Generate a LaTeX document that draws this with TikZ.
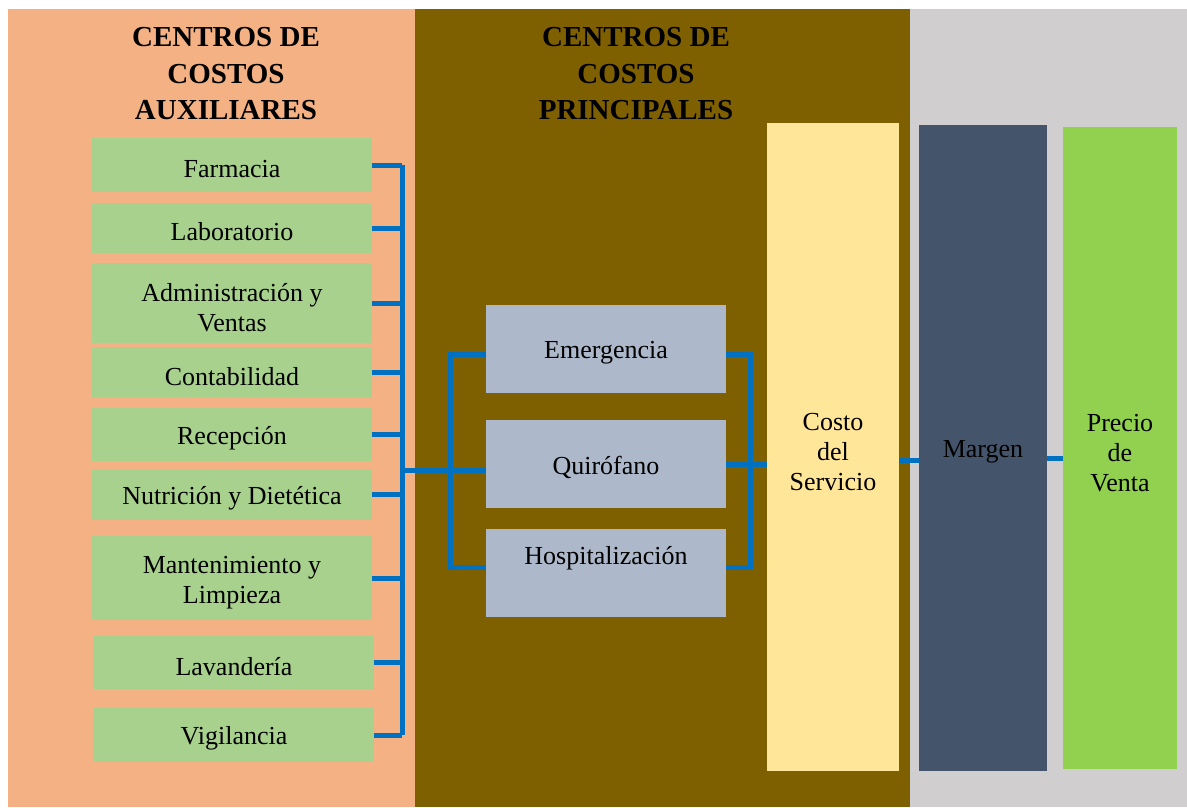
\documentclass[tikz,border=0pt]{standalone}
\usepackage{fontspec}
\setmainfont{Liberation Serif}
\usetikzlibrary{positioning}
\definecolor{peach}{HTML}{F4B183}
\definecolor{olive}{HTML}{7F6000}
\definecolor{greybg}{HTML}{D0CECE}
\definecolor{leaf}{HTML}{A9D18E}
\definecolor{steel}{HTML}{ADB9CA}
\definecolor{cream}{HTML}{FFE699}
\definecolor{slate}{HTML}{44546A}
\definecolor{lime}{HTML}{92D050}
\definecolor{link}{HTML}{0070C0}
\newcommand\topgap{\rule{0pt}{20pt}}

\begin{document}
\begin{tikzpicture}[
                x=0.75pt,y=-0.75pt,
                every node/.append style={inner sep=2pt,align=center,
                    font=\fontsize{19.5}{22.5}\selectfont},
                title/.style={font=\fontsize{21.75}{27.4}\selectfont\bfseries},
                box/.style={execute at begin node=\rule{0pt}{19pt}},
                aux/.style={box,fill=leaf,minimum width=210pt},
                main/.style={box,fill=steel,minimum width=180pt,minimum height=66pt},
                wire/.style={draw=link,line width=3.75pt}
            ]
                \useasboundingbox (0,0) rectangle (1187,807);
                \fill[white] (0,0) rectangle (1187,807);
                \fill[peach]  (8,9)   rectangle (415,807);
                \fill[olive]  (415,9) rectangle (910,807);
                \fill[greybg] (910,9) rectangle (1187,807);

                \node (tA) [title] at (226,74) {CENTROS DE\\COSTOS\\AUXILIARES};
                \node (tP) [title] at (636,74) {CENTROS DE\\COSTOS\\PRINCIPALES};

                \node (farm) [aux,minimum height=40.5pt]  at (232,165)   {Farmacia};
                \node (lab)  [aux,minimum height=37.5pt]  at (232,228)   {Laboratorio};
                \node (adm)  [aux,minimum height=60pt]    at (232,303)   {\topgap Administración y\\Ventas};
                \node (cont) [aux,minimum height=38.25pt] at (232,372.5) {Contabilidad};
                \node (rec)  [aux,minimum height=39.75pt] at (232,434.5) {Recepción};
                \node (nut)  [aux,minimum height=38.25pt] at (232,494.5) {Nutrición y Dietética};
                \node (mant) [aux,minimum height=63pt]    at (232,578)   {\topgap Mantenimiento y\\Limpieza};
                \node (lav)  [aux,minimum height=39.75pt] at (234,662.5) {Lavandería};
                \node (vig)  [aux,minimum height=40.5pt]  at (234,735)   {Vigilancia};

                \node (emer) [main] at (606,349)   {Emergencia};
                \node (quir) [main] at (606,464)   {Quirófano};
                \node (hosp) [main,text depth=31pt] at (606,572.5) {Hospitalización};

                \node (costo)  [box,fill=cream,minimum width=99pt,minimum height=486pt]    at (833,447)  {\topgap Costo\\del\\Servicio};
                \node (margen) [box,fill=slate,minimum width=96pt,minimum height=484.5pt]  at (983,448)  {Margen};
                \node (precio) [box,fill=lime,minimum width=85.5pt,minimum height=481.5pt] at (1120,448) {\topgap Precio\\de\\Venta};

                \coordinate (busA) at (402,167);
                \coordinate (busB) at (450,344);
                \coordinate (busC) at (750,344);
                \coordinate (join) at (402,470);

                \foreach \n in {farm,lab,adm,cont,rec,nut,mant,lav,vig}
                    \draw[wire] (\n.east) -- (\n.east -| busA);
                \draw[wire] (busA |- farm.east) -- (busA |- vig.east);
                \draw[wire] (join) -- (join -| quir.west);
                \draw[wire] ([yshift=-4pt]emer.west) -- ([yshift=-4pt]emer.west -| busB)
                    -- ([yshift=4pt]hosp.west -| busB) -- ([yshift=4pt]hosp.west);
                \draw[wire] ([yshift=-4pt]emer.east) -- ([yshift=-4pt]emer.east -| busC)
                    -- ([yshift=4pt]hosp.east -| busC) -- ([yshift=4pt]hosp.east);
                \draw[wire] (quir.east) -- (quir.east -| costo.west);
                \draw[wire] ([yshift=-9.75pt]costo.east) -- ([yshift=-9.75pt]costo.east -| margen.west);
                \draw[wire] ([yshift=-7.5pt]margen.east) -- ([yshift=-7.5pt]margen.east -| precio.west);
            \end{tikzpicture}
\end{document}
